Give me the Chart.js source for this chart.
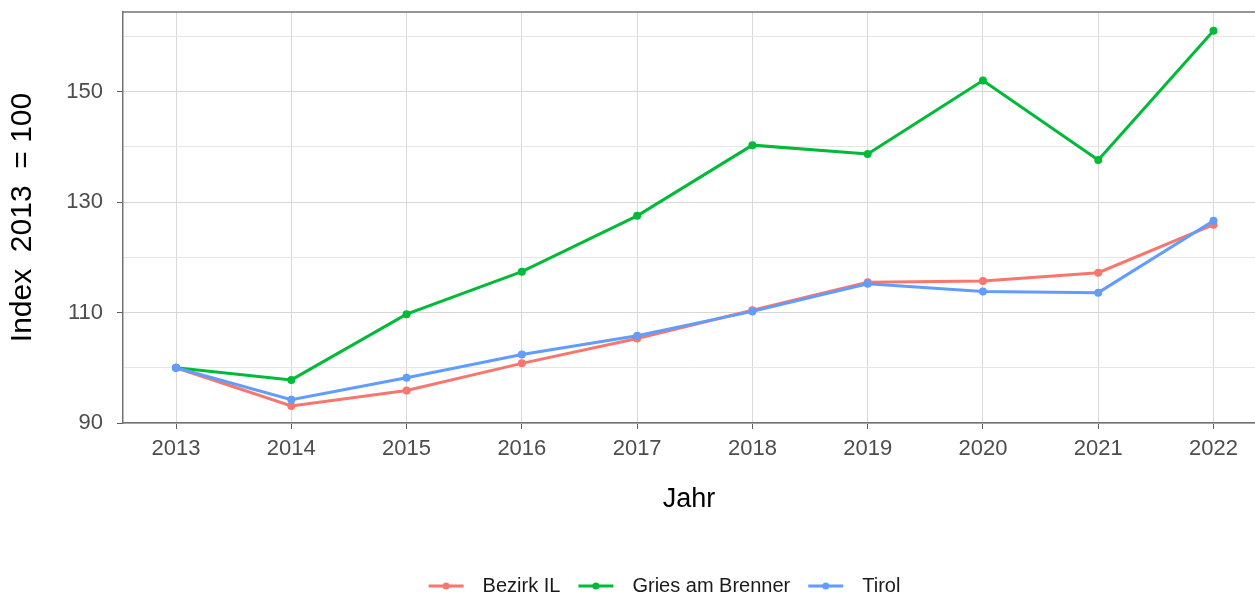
<!DOCTYPE html>
<html>
<head>
<meta charset="utf-8">
<script src="https://cdn.jsdelivr.net/npm/chart.js@4.4.1/dist/chart.umd.min.js"></script>
<style>
    html, body { margin: 0; padding: 0; background: #ffffff; overflow: hidden; }
    #wrap { width: 1255px; height: 597px; }
</style>
</head>
<body>
<div id="wrap"><canvas id="chart" width="1255" height="597"></canvas></div>
<script>
var years = [2013, 2014, 2015, 2016, 2017, 2018, 2019, 2020, 2021, 2022];
var seriesNames = ['Bezirk IL', 'Gries am Brenner', 'Tirol'];
var bezirkIL = [100, 93.1, 95.9, 100.8, 105.3, 110.4, 115.5, 115.7, 117.2, 125.9];
var griesAmBrenner = [100, 97.8, 109.7, 117.4, 127.5, 140.3, 138.7, 152.0, 137.6, 161.0];
var tirol = [100, 94.2, 98.2, 102.4, 105.8, 110.2, 115.2, 113.8, 113.6, 126.6];
var yTickValues = [90, 100, 110, 120, 130, 140, 150, 160];
var yTickLabels = [90, 110, 130, 150];

var colors = ['#F8766D', '#00BA38', '#619CFF'];
var frameColor = '#737373';
var tickMarkColor = '#5e5e5e';

Chart.defaults.font.family = "'Liberation Sans', Arial, sans-serif";

function toPoints(values) {
    return years.map(function (year, i) {
        return { x: year, y: values[i] };
    });
}

function makeDataset(i, values) {
    return {
        label: seriesNames[i],
        data: toPoints(values),
        borderColor: colors[i],
        backgroundColor: colors[i],
        borderWidth: 3,
        pointRadius: 4,
        pointHoverRadius: 4,
        pointBorderWidth: 0,
        tension: 0,
        order: 2 - i
    };
}

function noScalePadding(axis) {
    axis.paddingTop = 0;
    axis.paddingBottom = 0;
    axis.paddingLeft = 0;
    axis.paddingRight = 0;
}

// fixed legend height, panel top line and legend keys (line with a dot)
var framePlugin = {
    id: 'frame',
    beforeLayout: function (chart) {
        var legend = chart.legend;
        if (legend && !legend._fixedFit) {
            var fit = legend.fit;
            legend.fit = function () {
                fit.call(this);
                this.height = 39;
            };
            legend._fixedFit = true;
        }
    },
    afterLayout: function (chart) {
        chart.legend.left += 74;
    },
    beforeDatasetsDraw: function (chart) {
        var ctx = chart.ctx;
        var area = chart.chartArea;
        ctx.save();
        ctx.strokeStyle = frameColor;
        ctx.lineWidth = 1.5;
        ctx.beginPath();
        ctx.moveTo(area.left, area.top);
        ctx.lineTo(area.right, area.top);
        ctx.stroke();
        ctx.restore();
    },
    afterDraw: function (chart) {
        var ctx = chart.ctx;
        var legend = chart.legend;
        ctx.save();
        legend.legendItems.forEach(function (item, i) {
            var box = legend.legendHitBoxes[i];
            var color = chart.data.datasets[item.datasetIndex].borderColor;
            var cy = box.top + 10;
            ctx.strokeStyle = color;
            ctx.fillStyle = color;
            ctx.lineWidth = 3;
            ctx.beginPath();
            ctx.moveTo(box.left, cy);
            ctx.lineTo(box.left + 35, cy);
            ctx.stroke();
            ctx.beginPath();
            ctx.arc(box.left + 17.5, cy, 3.5, 0, Math.PI * 2);
            ctx.fill();
        });
        ctx.restore();
    }
};

new Chart(document.getElementById('chart'), {
    type: 'line',
    data: {
        datasets: [
            makeDataset(0, bezirkIL),
            makeDataset(1, griesAmBrenner),
            makeDataset(2, tirol)
        ]
    },
    options: {
        responsive: false,
        animation: false,
        devicePixelRatio: 1,
        layout: { autoPadding: false, padding: { top: 12, right: 0, left: 0, bottom: 0 } },
        plugins: {
            tooltip: { enabled: false },
            legend: {
                position: 'bottom',
                labels: {
                    boxWidth: 44,
                    boxHeight: 3,
                    padding: 18,
                    color: '#1a1a1a',
                    font: { size: 20 },
                    sort: function (a, b) { return a.datasetIndex - b.datasetIndex; },
                    generateLabels: function (chart) {
                        var items = Chart.defaults.plugins.legend.labels.generateLabels(chart);
                        items.forEach(function (item) {
                            item.fillStyle = 'rgba(0,0,0,0)';
                            item.strokeStyle = 'rgba(0,0,0,0)';
                            item.lineWidth = 0;
                        });
                        return items;
                    }
                }
            }
        },
        scales: {
            x: {
                type: 'linear',
                min: 2012.54,
                max: 2022.36,
                afterBuildTicks: function (axis) {
                    axis.ticks = years.map(function (y) { return { value: y }; });
                },
                afterFit: function (axis) {
                    axis.height = 135;
                    noScalePadding(axis);
                },
                ticks: {
                    autoSkip: false,
                    maxRotation: 0,
                    padding: 7,
                    color: '#4d4d4d',
                    font: { size: 22 },
                    callback: function (value) { return String(value); }
                },
                grid: {
                    color: '#d9d9d9',
                    lineWidth: 1,
                    tickLength: 6,
                    tickColor: tickMarkColor
                },
                border: { color: frameColor, width: 1.5 },
                title: {
                    display: true,
                    text: 'Jahr',
                    color: '#000000',
                    font: { size: 27 },
                    padding: { top: 0, bottom: 42 }
                }
            },
            y: {
                min: 90,
                max: 164.4,
                afterBuildTicks: function (axis) {
                    axis.ticks = yTickValues.map(function (v) { return { value: v }; });
                },
                afterFit: function (axis) {
                    axis.width = 123;
                    noScalePadding(axis);
                },
                ticks: {
                    padding: 14,
                    color: '#4d4d4d',
                    font: { size: 22 },
                    callback: function (value) {
                        return yTickLabels.indexOf(value) >= 0 ? String(value) : '';
                    }
                },
                grid: {
                    lineWidth: 1,
                    tickLength: 6,
                    color: function (ctx) {
                        return yTickLabels.indexOf(ctx.tick.value) >= 0 ? '#d6d6d6' : '#e6e6e6';
                    },
                    tickColor: function (ctx) {
                        return yTickLabels.indexOf(ctx.tick.value) >= 0 ? tickMarkColor : 'rgba(0,0,0,0)';
                    }
                },
                border: { color: frameColor, width: 1.5 },
                title: {
                    display: true,
                    text: 'Index  2013  = 100',
                    color: '#000000',
                    font: { size: 30 },
                    padding: { top: 5, bottom: 0 }
                }
            }
        }
    },
    plugins: [framePlugin]
});
</script>
</body>
</html>
